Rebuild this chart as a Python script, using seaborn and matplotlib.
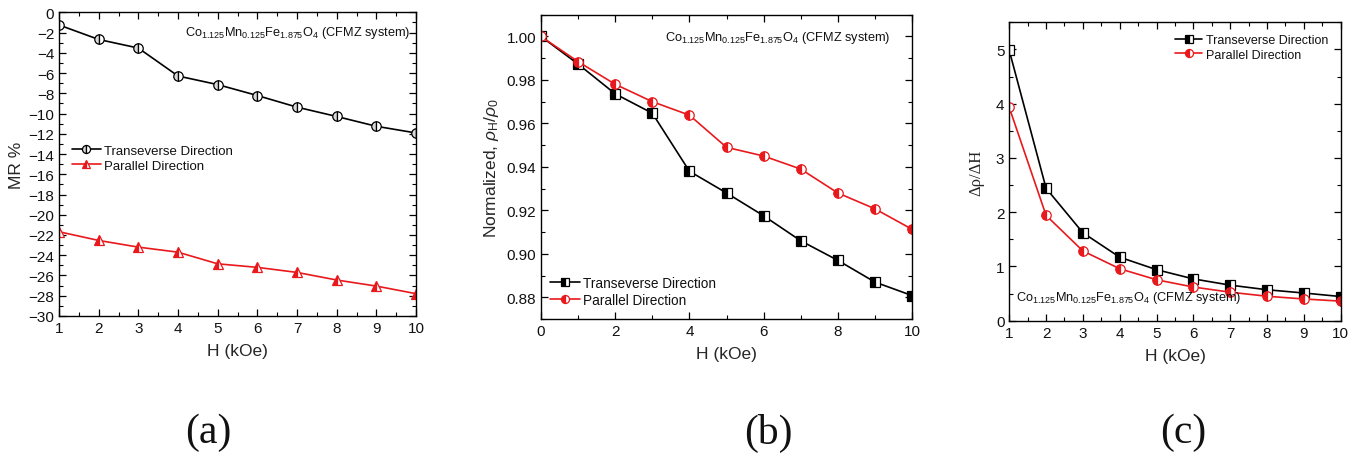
import matplotlib
matplotlib.use("Agg")
import matplotlib.pyplot as plt
from matplotlib.ticker import MultipleLocator
import seaborn as sns
import pandas as pd

# ---------------- data ----------------
H_a = [1, 2, 3, 4, 5, 6, 7, 8, 9, 10]
mr_trans = [-1.25, -2.68, -3.53, -6.29, -7.14, -8.22, -9.37, -10.29, -11.26, -11.92]
mr_par = [-21.68, -22.54, -23.2, -23.7, -24.85, -25.2, -25.7, -26.45, -27.05, -27.8]

H_b = [0, 1, 2, 3, 4, 5, 6, 7, 8, 9, 10]
norm_trans = [1.000, 0.9873, 0.9736, 0.9647, 0.938, 0.928, 0.9175, 0.906, 0.897, 0.887, 0.8808]
norm_par = [1.000, 0.9884, 0.978, 0.970, 0.9638, 0.949, 0.945, 0.939, 0.928, 0.9207, 0.9113]

H_c = [1, 2, 3, 4, 5, 6, 7, 8, 9, 10]
drho_trans = [4.98, 2.44, 1.62, 1.17, 0.94, 0.77, 0.655, 0.57, 0.51, 0.445]
drho_par = [3.93, 1.94, 1.285, 0.957, 0.754, 0.62, 0.525, 0.45, 0.40, 0.36]

label_trans = "Transeverse Direction"
label_par = "Parallel Direction"
formula = (r"Co$_\mathregular{1.125}$Mn$_\mathregular{0.125}$"
           r"Fe$_\mathregular{1.875}$O$_\mathregular{4}$ (CFMZ system)")
captions = ["(a)", "(b)", "(c)"]

# ---------------- style ----------------
sns.set_style("ticks")
plt.rcParams["font.family"] = ["Liberation Sans", "DejaVu Sans"]
plt.rcParams["mathtext.fontset"] = "custom"
plt.rcParams["mathtext.rm"] = "Liberation Sans"
plt.rcParams["mathtext.it"] = "Liberation Sans:italic"
plt.rcParams["axes.linewidth"] = 1.0
plt.rcParams["text.color"] = "#111111"

RED = "#e8191c"

fig = plt.figure(figsize=(13.6, 4.6), dpi=100)
ax_a = fig.add_axes([0.0434, 0.311, 0.2625, 0.660])
ax_b = fig.add_axes([0.3978, 0.3043, 0.2728, 0.6615])
ax_c = fig.add_axes([0.7421, 0.3007, 0.2437, 0.6487])


def series(ax, x, y, color, marker, alt_fill, label, ms=6.8):
    df = pd.DataFrame({"x": x, "y": y})
    sns.lineplot(data=df, x="x", y="y", ax=ax, color=color, lw=1.2,
                 marker=marker, markersize=ms, fillstyle="left",
                 markerfacecolor=alt_fill, markerfacecoloralt="white",
                 markeredgecolor=color, markeredgewidth=0.9,
                 label=label, sort=False, estimator=None)


def style_axis(ax):
    ax.tick_params(which="both", direction="in", top=True, right=True,
                   colors="black", labelsize=11, labelcolor="#111111")
    ax.tick_params(which="major", length=5, width=0.9)
    ax.tick_params(which="minor", length=3, width=0.8)
    for s in ax.spines.values():
        s.set_color("black")
        s.set_linewidth(1.0)
    ax.set_xlabel("H (kOe)", fontsize=12.5, labelpad=6)


def legend(ax, fs=9.5, **kw):
    ax.legend(frameon=False, fontsize=fs, handlelength=2.2,
              handletextpad=0.25, labelspacing=0.2, borderpad=0,
              borderaxespad=0, markerscale=0.85, **kw)


# ---- (a) ----
series(ax_a, H_a, mr_trans, "black", "o", "#d8d8d8", label_trans)
series(ax_a, H_a, mr_par, RED, "^", RED, label_par, ms=7.2)
ax_a.set_xlim(1, 10)
ax_a.set_ylim(-30, 0)
ax_a.xaxis.set_major_locator(MultipleLocator(1))
ax_a.xaxis.set_minor_locator(MultipleLocator(0.5))
ax_a.yaxis.set_major_locator(MultipleLocator(2))
ax_a.yaxis.set_minor_locator(MultipleLocator(1))
style_axis(ax_a)
ax_a.set_ylabel("MR %", fontsize=12.5, labelpad=3)
ax_a.text(0.353, 0.934, formula, transform=ax_a.transAxes, fontsize=9.2,
          va="center", ha="left")
legend(ax_a, loc="upper left", bbox_to_anchor=(0.036, 0.565))

# ---- (b) ----
series(ax_b, H_b, norm_trans, "black", "s", "black", label_trans)
series(ax_b, H_b, norm_par, RED, "o", RED, label_par)
ax_b.set_xlim(0, 10)
ax_b.set_ylim(0.87, 1.01)
ax_b.xaxis.set_major_locator(MultipleLocator(2))
ax_b.xaxis.set_minor_locator(MultipleLocator(1))
ax_b.yaxis.set_major_locator(MultipleLocator(0.02))
ax_b.yaxis.set_minor_locator(MultipleLocator(0.01))
ax_b.yaxis.set_major_formatter(plt.FormatStrFormatter("%.2f"))
style_axis(ax_b)
ax_b.set_ylabel(r"Normalized, $\rho_\mathregular{H}$/$\rho_\mathregular{0}$",
                fontsize=12.5, labelpad=4)
ax_b.text(0.334, 0.928, formula, transform=ax_b.transAxes, fontsize=9.2,
          va="center", ha="left")
legend(ax_b, fs=9.8, loc="lower left", bbox_to_anchor=(0.024, 0.04))

# ---- (c) ----
series(ax_c, H_c, drho_trans, "black", "s", "black", label_trans)
series(ax_c, H_c, drho_par, RED, "o", RED, label_par)
ax_c.set_xlim(1, 10)
ax_c.set_ylim(0, 5.5)
ax_c.xaxis.set_major_locator(MultipleLocator(1))
ax_c.xaxis.set_minor_locator(MultipleLocator(0.5))
ax_c.yaxis.set_major_locator(MultipleLocator(1))
ax_c.yaxis.set_minor_locator(MultipleLocator(0.5))
style_axis(ax_c)
ax_c.set_ylabel("Δρ/ΔH", fontsize=12, labelpad=8,
                family=["Liberation Serif", "DejaVu Serif"])
ax_c.text(0.02, 0.08, formula, transform=ax_c.transAxes, fontsize=9.2,
          va="center", ha="left")
legend(ax_c, fs=9.0, loc="upper left", bbox_to_anchor=(0.50, 0.96))

# ---- captions ----
for cx, cap in zip([208 / 1360, 768 / 1360, 1183 / 1360], captions):
    fig.text(cx, 1 - 433 / 460, cap, ha="center", va="center", fontsize=30,
             family=["Liberation Serif", "DejaVu Serif"])

fig.savefig("out.png", dpi=100)
